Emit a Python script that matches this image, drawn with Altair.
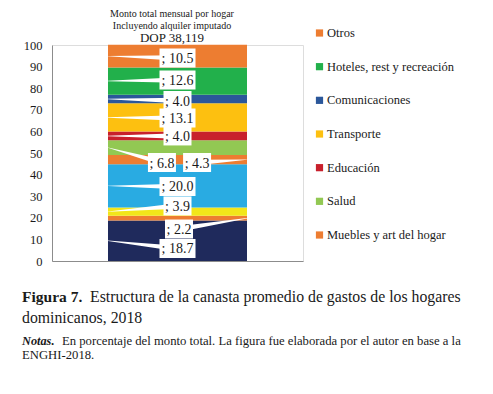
import altair as alt
import pandas as pd

# ---------------- data ----------------
categories = [
    "Alimentos y bebidas no alcohólicas", "Bebidas alcohólicas y tabaco",
    "Prendas de vestir y calzado", "Vivienda", "Muebles y art del hogar",
    "Salud", "Educación", "Transporte", "Comunicaciones",
    "Hoteles, rest y recreación", "Otros",
]
values = [18.7, 2.2, 3.9, 20.0, 4.3, 6.8, 4.0, 13.1, 4.0, 12.6, 10.5]
colors = ["#1F2A5C", "#ED7D31", "#F2E61A", "#29ABE2", "#ED7D31", "#92C853",
          "#C8202C", "#FDC010", "#2B579A", "#22B04B", "#ED7D31"]
legend_items = ["Otros", "Hoteles, rest y recreación", "Comunicaciones",
                "Transporte", "Educación", "Salud", "Muebles y art del hogar"]
y_ticks = [0, 10, 20, 30, 40, 50, 60, 70, 80, 90, 100]

header_lines = ["Monto total mensual por hogar", "Incluyendo alquiler imputado", "DOP 38,119"]
caption_bold = "Figura 7."
caption_1 = "Estructura de la canasta promedio de gastos de los hogares"
caption_2 = "dominicanos, 2018"
notes_bold = "Notas."
notes_1 = "En porcentaje del monto total. La figura fue elaborada por el autor en base a la"
notes_2 = "ENGHI-2018."

# callout layout (label box centres, in chart units) and which bar edge they hook to
label_y = [5.8, 14.8, 25.5, 34.5, 45.6, 45.6, 57.9, 66.2, 74.3, 83.8, 94.0]
label_x = [0.5, 0.506, 0.5, 0.5, 0.578, 0.438, 0.5, 0.5, 0.5, 0.5, 0.5]
label_side = ["left", "right", "left", "left", "right", "left", "left",
              "left", "left", "left", "left"]

# ---------------- layout constants ----------------
W, H = 251, 216
BAR_X0, BAR_X1 = 0.2231, 0.7769
PX_X = 1.0 / W
PX_Y = 100.0 / H
FONT = "'Liberation Serif', 'DejaVu Serif', serif"
TXT = "#1a1a1a"
AXIS_GREY = "#8C8C8C"

# ---------------- tables ----------------
ends = pd.Series(values).cumsum()
starts = ends - pd.Series(values)
bars = pd.DataFrame({"cat": categories, "v": values, "y0": starts, "y1": ends,
                     "x0": BAR_X0, "x1": BAR_X1})

labels = pd.DataFrame({"cat": categories, "v": values, "ly": label_y, "lx": label_x,
                       "side": label_side})
labels["mid"] = (starts + ends) / 2
labels["text"] = labels["v"].map(lambda v: f"; {v:.1f}")
labels["hw"] = (labels["text"].str.len() * 8 - 12) / 2 * PX_X
labels["bx0"] = labels["lx"] - labels["hw"]
labels["bx1"] = labels["lx"] + labels["hw"]
labels["by0"] = labels["ly"] - 9.5 * PX_Y
labels["by1"] = labels["ly"] + 9.5 * PX_Y

trail_rows = []
for i, r in labels.iterrows():
    edge = BAR_X0 if r["side"] == "left" else BAR_X1
    trail_rows.append({"id": i, "x": edge, "y": r["mid"], "w": 0.4})
    trail_rows.append({"id": i, "x": r["lx"], "y": r["ly"], "w": 5.5})
trails = pd.DataFrame(trail_rows)

legend_df = pd.DataFrame({"cat": legend_items, "i": list(range(len(legend_items)))})

xs = alt.Scale(domain=[0, 1], nice=False, zero=False)
ys = alt.Scale(domain=[0, 100], nice=False)
cs = alt.Scale(domain=categories, range=colors)

bar_layer = alt.Chart(bars).mark_bar(stroke=None).encode(
    x=alt.X("x0:Q", scale=xs,
            axis=alt.Axis(labels=False, ticks=False, grid=False, title=None,
                          domain=True, domainColor=AXIS_GREY, domainWidth=1,
                          domainOpacity=1)),
    x2="x1:Q",
    y=alt.Y("y0:Q", scale=ys,
            axis=alt.Axis(values=y_ticks, ticks=False, grid=False, title=None,
                          domain=True, domainColor=AXIS_GREY, domainWidth=1,
                          domainOpacity=1, labelFont=FONT, labelFontSize=12.5,
                          labelColor=TXT, labelPadding=10)),
    y2="y1:Q",
    color=alt.Color("cat:N", scale=cs, legend=None),
)

trail_layer = alt.Chart(trails).mark_trail(color="white").encode(
    x=alt.X("x:Q", scale=xs),
    y=alt.Y("y:Q", scale=ys, axis=None),
    size=alt.Size("w:Q", scale=None),
    detail="id:N",
)

box_layer = alt.Chart(labels).mark_rect(color="white").encode(
    x=alt.X("bx0:Q", scale=xs), x2="bx1:Q",
    y=alt.Y("by0:Q", scale=ys, axis=None), y2="by1:Q",
)

text_layer = alt.Chart(labels).mark_text(font=FONT, fontSize=14, color=TXT,
                                         baseline="middle", dy=1).encode(
    x=alt.X("lx:Q", scale=xs),
    y=alt.Y("ly:Q", scale=ys, axis=None),
    text="text:N",
)

ls = alt.Scale(domain=[0, 6], range=[-12, 190])
legend_sq = alt.Chart(legend_df).mark_square(size=52, opacity=1).encode(
    x=alt.value(267.5),
    y=alt.Y("i:Q", scale=ls, axis=None),
    color=alt.Color("cat:N", scale=cs, legend=None),
)
legend_tx = alt.Chart(legend_df).mark_text(font=FONT, fontSize=12.5, color=TXT,
                                           align="left", baseline="middle").encode(
    x=alt.value(275),
    y=alt.Y("i:Q", scale=ls, axis=None),
    text="cat:N",
)

one = pd.DataFrame({"k": [0]})


def note(text, x, y, size, weight="normal", style="normal", align="left"):
    return alt.Chart(one).mark_text(
        text=text, font=FONT, fontSize=size, fontWeight=weight, fontStyle=style,
        color=TXT, align=align, baseline="alphabetic",
    ).encode(x=alt.value(x), y=alt.value(y))


annots = [
    note(header_lines[0], 120, -28.5, 10, align="center"),
    note(header_lines[1], 120, -16.5, 10, align="center"),
    note(header_lines[2], 120, -3, 13, align="center"),
    note(caption_bold, -30, 257, 15.5, weight="bold"),
    note(caption_1, 38, 257, 15.8),
    note(caption_2, -30, 278, 15.8),
    note(notes_bold, -30, 300, 12.3, weight="bold", style="italic"),
    note(notes_1, 10, 300, 12.7),
    note(notes_2, -30, 314, 12.7),
]

chart = alt.layer(
    bar_layer, trail_layer, box_layer, text_layer, legend_sq, legend_tx, *annots
).resolve_scale(y="independent").properties(
    width=W, height=H,
    autosize=alt.AutoSizeParams(type="none"),
    padding={"left": 44, "top": 37, "right": 182, "bottom": 125},
).configure_axis(domain=True, domainColor=AXIS_GREY, domainOpacity=1
).configure_view(stroke=None).configure(background="white")

chart.save("out.html", embed_options={"renderer": "svg", "actions": False})
